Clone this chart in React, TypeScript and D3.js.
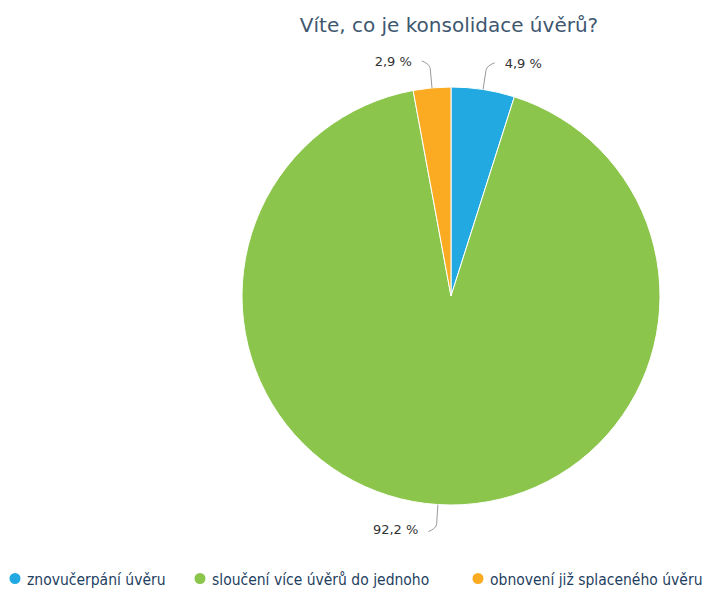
import React from "react";
import * as d3 from "d3";

const title = "Víte, co je konsolidace úvěrů?";
const categories = [
  "znovučerpání úvěru",
  "sloučení více úvěrů do jednoho",
  "obnovení již splaceného úvěru",
];
const values = [4.9, 92.2, 2.9];
const valueLabels = ["4,9 %", "92,2 %", "2,9 %"];
const colors = ["#22a9e1", "#8cc54b", "#fbab22"];

const W = 708;
const H = 589;
const cx = 451;
const cy = 296;
const R = 209;
const legendX = [15, 200, 478];

export default function App() {
  const pie = d3.pie<number>().sort(null).value((d) => d)(values);
  const arc = d3.arc<d3.PieArcDatum<number>>().innerRadius(0).outerRadius(R);

  const labels = pie.map((p, i) => {
    const a = (p.startAngle + p.endAngle) / 2;
    const sx = Math.sin(a);
    const sy = -Math.cos(a);
    const p0 = [cx + R * sx, cy + R * sy];
    const p1 = [cx + (R + 24) * sx, cy + (R + 24) * sy];
    const dir = sx >= 0 ? 1 : -1;
    const vdir = sy < 0 ? -1 : 1;
    const p2 = [p1[0] + dir * 8, p1[1] + vdir * 3];
    const path = `M${p0[0]},${p0[1]}L${p1[0] - (p1[0] - p0[0]) * 0.2},${
      p1[1] - (p1[1] - p0[1]) * 0.2
    }Q${p1[0]},${p1[1]} ${p2[0]},${p2[1]}`;
    return {
      path,
      x: p2[0] + dir * 10,
      y: p2[1] + (vdir < 0 ? 5 : 2),
      anchor: dir > 0 ? "start" : "end",
      text: valueLabels[i],
    };
  });

  return (
    <svg
      width={W}
      height={H}
      style={{ position: "absolute", left: 0, top: 0, background: "#fff" }}
    >
      <text
        x={449}
        y={32}
        textAnchor="middle"
        fontFamily="'DejaVu Sans', sans-serif"
        fontSize={20}
        fill="#3e576f"
      >
        {title}
      </text>
      <g transform={`translate(${cx},${cy})`}>
        {pie.map((p, i) => (
          <path
            key={i}
            d={arc(p) || ""}
            fill={colors[i]}
            stroke="#fff"
            strokeWidth={1}
            strokeLinejoin="round"
          />
        ))}
      </g>
      {labels.map((l, i) => (
        <g key={i}>
          <path d={l.path} fill="none" stroke="#9a9a9a" strokeWidth={1} />
          <text
            x={l.x}
            y={l.y}
            textAnchor={l.anchor}
            fontFamily="'DejaVu Sans', sans-serif"
            fontSize={13}
            fill="#333"
          >
            {l.text}
          </text>
        </g>
      ))}
      {categories.map((c, i) => (
        <g key={c}>
          <circle cx={legendX[i]} cy={578.5} r={5.5} fill={colors[i]} />
          <text
            x={legendX[i] + 12}
            y={584.5}
            fontFamily="'DejaVu Sans Condensed', 'DejaVu Sans', sans-serif"
            style={{ fontStretch: "condensed" }}
            fontSize={15.5}
            fill="#1f3f5f"
          >
            {c}
          </text>
        </g>
      ))}
    </svg>
  );
}
